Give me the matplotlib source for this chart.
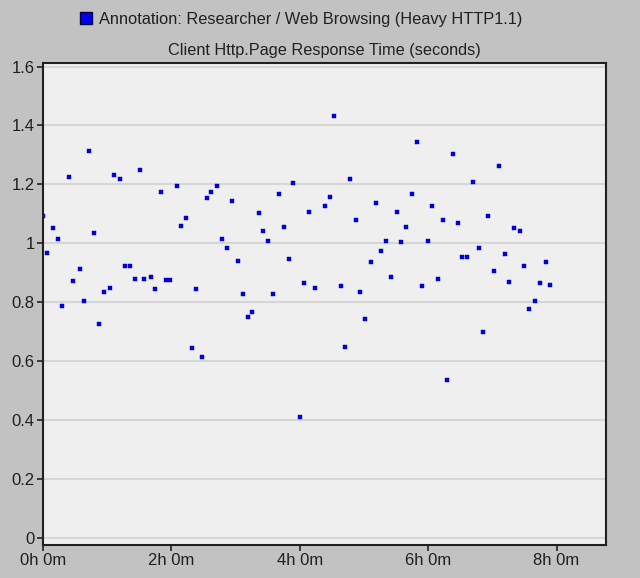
import matplotlib
matplotlib.use("Agg")
import matplotlib.pyplot as plt
from matplotlib.patches import Patch

# sample times (hours) and response time (seconds)
hours = [0.00, 0.07, 0.16, 0.23, 0.30, 0.40, 0.47, 0.57, 0.64, 0.71,
         0.80, 0.87, 0.95, 1.04, 1.11, 1.20, 1.28, 1.35, 1.44, 1.51,
         1.58, 1.68, 1.75, 1.84, 1.91, 1.98, 2.08, 2.15, 2.22, 2.32,
         2.39, 2.48, 2.55, 2.62, 2.71, 2.79, 2.86, 2.95, 3.03, 3.12,
         3.19, 3.26, 3.36, 3.43, 3.50, 3.59, 3.67, 3.76, 3.83, 3.90,
         4.00, 4.07, 4.14, 4.23, 4.40, 4.47, 4.54, 4.64, 4.70, 4.78,
         4.87, 4.94, 5.01, 5.11, 5.18, 5.27, 5.35, 5.42, 5.51, 5.58,
         5.65, 5.75, 5.82, 5.91, 5.99, 6.06, 6.15, 6.23, 6.29, 6.39,
         6.46, 6.53, 6.60, 6.70, 6.79, 6.86, 6.93, 7.02, 7.10, 7.19,
         7.26, 7.34, 7.43, 7.50, 7.57, 7.66, 7.74, 7.83, 7.90]
resp = [1.091, 0.967, 1.050, 1.014, 0.786, 1.225, 0.870, 0.911, 0.803, 1.313,
        1.035, 0.725, 0.834, 0.849, 1.231, 1.219, 0.921, 0.921, 0.880, 1.250,
        0.880, 0.885, 0.844, 1.173, 0.875, 0.875, 1.193, 1.060, 1.086, 0.643,
        0.844, 0.612, 1.153, 1.173, 1.193, 1.014, 0.982, 1.142, 0.941, 0.828,
        0.750, 0.766, 1.102, 1.040, 1.008, 0.828, 1.168, 1.056, 0.946, 1.205,
        0.410, 0.865, 1.106, 0.849, 1.127, 1.158, 1.431, 0.854, 0.648, 1.219,
        1.080, 0.834, 0.741, 0.937, 1.137, 0.973, 1.008, 0.885, 1.106, 1.003,
        1.056, 1.168, 1.344, 0.854, 1.008, 1.127, 0.880, 1.080, 0.534, 1.302,
        1.070, 0.952, 0.952, 1.209, 0.982, 0.700, 1.091, 0.905, 1.261, 0.962,
        0.869, 1.050, 1.040, 0.921, 0.776, 0.802, 0.865, 0.937, 0.859]

xticks = [0, 2, 4, 6, 8]
xlabels = ["0h 0m", "2h 0m", "4h 0m", "6h 0m", "8h 0m"]
yticks = [0, 0.2, 0.4, 0.6, 0.8, 1.0, 1.2, 1.4, 1.6]
ylabels = ["0", "0.2", "0.4", "0.6", "0.8", "1", "1.2", "1.4", "1.6"]

plt.rcParams['font.family'] = ['Liberation Sans', 'DejaVu Sans']
plt.rcParams['font.size'] = 12

dpi = 100
fig = plt.figure(figsize=(640 / dpi, 578 / dpi), dpi=dpi, facecolor='#c2c2c2')
ax = fig.add_axes([43 / 640, 33 / 578, 563 / 640, 482 / 578])
ax.set_facecolor('#efefef')

ax.scatter(hours, resp, marker='s', s=8, color='#0000f0',
           edgecolors='#000090', linewidths=0.3, zorder=3)

ax.set_xlim(0, 8.77)
ax.set_ylim(-0.025, 1.612)
ax.set_xticks(xticks)
ax.set_xticklabels(xlabels)
ax.set_yticks(yticks)
ax.set_yticklabels(ylabels)
ax.yaxis.grid(True, color='#d6d6d6', linewidth=1.5)
ax.set_axisbelow(True)
ax.tick_params(direction='out', length=4, width=1.2, color='#202020', pad=2,
               labelcolor='#202020')
for s in ax.spines.values():
    s.set_color('#202020')
    s.set_linewidth(1.5)

ax.set_title('Client Http.Page Response Time (seconds)', fontsize=11.7,
             pad=6, color='#202020')
fig.legend(handles=[Patch(facecolor='#0000f0', edgecolor='#000040')],
           labels=['Annotation: Researcher / Web Browsing (Heavy HTTP1.1)'],
           loc='center', bbox_to_anchor=(0.470, 0.967), frameon=False,
           handlelength=0.75, handleheight=0.75, handletextpad=0.4,
           fontsize=11.8, labelcolor='#202020')

fig.savefig('out.png', dpi=dpi, facecolor=fig.get_facecolor())
